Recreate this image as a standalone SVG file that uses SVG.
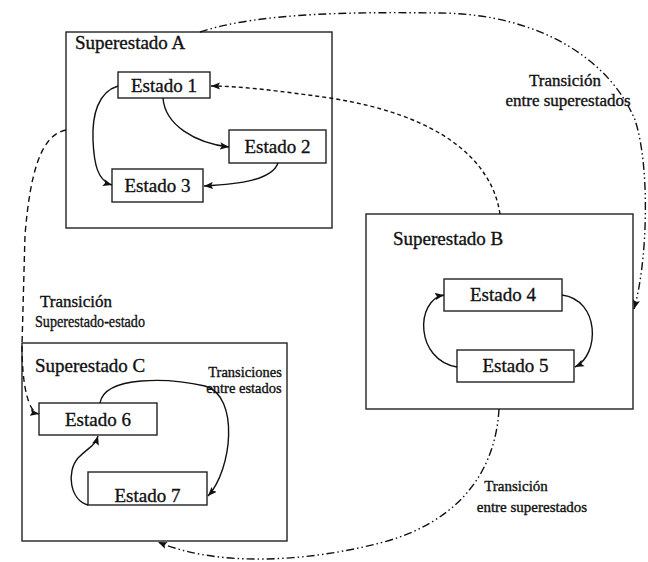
<svg xmlns="http://www.w3.org/2000/svg" width="648" height="562" viewBox="0 0 648 562" font-family="'Liberation Serif', 'Times New Roman', serif">
  <style>
    .super { fill: #fff; stroke: #222; stroke-width: 1.4; }
    .state { fill: #fff; stroke: #222; stroke-width: 1.4; }
    text { font-family: "Liberation Serif", "Times New Roman", serif; fill: #111; stroke: #111; stroke-width: 0.35; }
    .t-super { font-size: 19px; }
    .t-state { font-size: 19px; text-anchor: middle; }
    .t-label { font-size: 17px; text-anchor: middle; }
    .t-small { font-size: 14.5px; text-anchor: middle; }
    .edge { fill: none; stroke: #111; stroke-width: 1.4; }
    .solid { marker-end: url(#arrow); }
    .dashed { stroke-dasharray: 6 4; marker-end: url(#arrow); }
    .dotted { stroke-dasharray: 4 3; marker-end: url(#arrow); }
    .dashdot { stroke-dasharray: 8 3 1.5 3 1.5 3; marker-end: url(#arrow); }
  </style>
  <defs>
    <marker id="arrow" viewBox="0 0 10 8" refX="10" refY="4" markerWidth="9" markerHeight="7.5" markerUnits="userSpaceOnUse" orient="auto">
      <path d="M0,0 L10,4 L0,8 L2,4 Z" fill="#111"/>
    </marker>
  </defs>

  <rect width="648" height="562" fill="#fff"/>

  <!-- Superstate A with its states -->
  <g id="superestado-a">
    <rect class="super" x="66" y="32" width="266" height="196"/>
    <text class="t-super" x="75" y="49">Superestado A</text>
  </g>
  <g id="estado-1">
    <rect class="state" x="118" y="72" width="92" height="26"/>
    <text class="t-state" x="164" y="92">Estado 1</text>
  </g>
  <g id="estado-2">
    <rect class="state" x="229" y="130" width="97" height="33"/>
    <text class="t-state" x="277.5" y="153">Estado 2</text>
  </g>
  <g id="estado-3">
    <rect class="state" x="112" y="169" width="91" height="33"/>
    <text class="t-state" x="157.5" y="192">Estado 3</text>
  </g>

  <!-- Superstate B with its states -->
  <g id="superestado-b">
    <rect class="super" x="366" y="214" width="267" height="195"/>
    <text class="t-super" x="393" y="245">Superestado B</text>
  </g>
  <g id="estado-4">
    <rect class="state" x="444" y="279" width="118" height="32"/>
    <text class="t-state" x="503" y="301">Estado 4</text>
  </g>
  <g id="estado-5">
    <rect class="state" x="457" y="350" width="117" height="32"/>
    <text class="t-state" x="515.5" y="372">Estado 5</text>
  </g>

  <!-- Superstate C with its states -->
  <g id="superestado-c">
    <rect class="super" x="22" y="343" width="265" height="198"/>
    <text class="t-super" x="35" y="372">Superestado C</text>
  </g>
  <g id="estado-6">
    <rect class="state" x="39" y="403" width="118" height="32"/>
    <text class="t-state" x="98" y="426">Estado 6</text>
  </g>
  <g id="estado-7">
    <rect class="state" x="88" y="472" width="119" height="33"/>
    <text class="t-state" x="147.5" y="502">Estado 7</text>
  </g>

  <!-- Transitions -->
  <g id="connectors">
    <!-- inside A -->
    <path class="edge solid" d="M118,86 C98,92 92,115 93,140 C94,165 98,181 112,185"/>
    <path class="edge solid" d="M163,98 C165,125 195,143 229,147"/>
    <path class="edge solid" d="M278,163 C272,180 240,184 204,186"/>
    <!-- inside B -->
    <path class="edge solid" d="M562,295 C600,300 600,355 575,367"/>
    <path class="edge solid" d="M457,367 C415,360 415,300 444,295"/>
    <!-- inside C -->
    <path class="edge solid" d="M100,403 C105,375 170,378 205,386 C240,396 232,470 208,496"/>
    <path class="edge solid" d="M88,505 C70,500 66,472 78,458 C90,446 95,446 98,436"/>
    <!-- superstate A to state 6 -->
    <path class="edge dashed" d="M66,130 C40,135 30,175 25,235 L22,345 C22,385 28,412 39,414"/>
    <!-- superstate A to superstate B -->
    <path class="edge dashdot" d="M200,32 C260,12 360,12 440,13 C540,14 610,60 635,120 C650,165 648,260 634,309"/>
    <!-- superstate B to state 1 -->
    <path class="edge dotted" d="M500,214 C492,160 440,115 330,98 C280,91 240,86 211,86"/>
    <!-- superstate B to superstate C -->
    <path class="edge dashdot" d="M499,409 C495,480 450,525 380,543 C310,561 220,568 158,542"/>
  </g>

  <!-- Transition labels -->
  <g id="labels">
    <text class="t-label" x="565" y="86">Transición</text>
    <text class="t-label" x="568" y="106">entre superestados</text>
    <text class="t-label" x="76" y="307">Transición</text>
    <text class="t-label" x="90" y="327" textLength="110" lengthAdjust="spacingAndGlyphs">Superestado-estado</text>
    <text class="t-small" x="245" y="377">Transiciones</text>
    <text class="t-small" x="244" y="393">entre estados</text>
    <text class="t-label" x="516" y="491" style="font-size:15px">Transición</text>
    <text class="t-label" x="532" y="512" style="font-size:15px">entre superestados</text>
  </g>
</svg>
